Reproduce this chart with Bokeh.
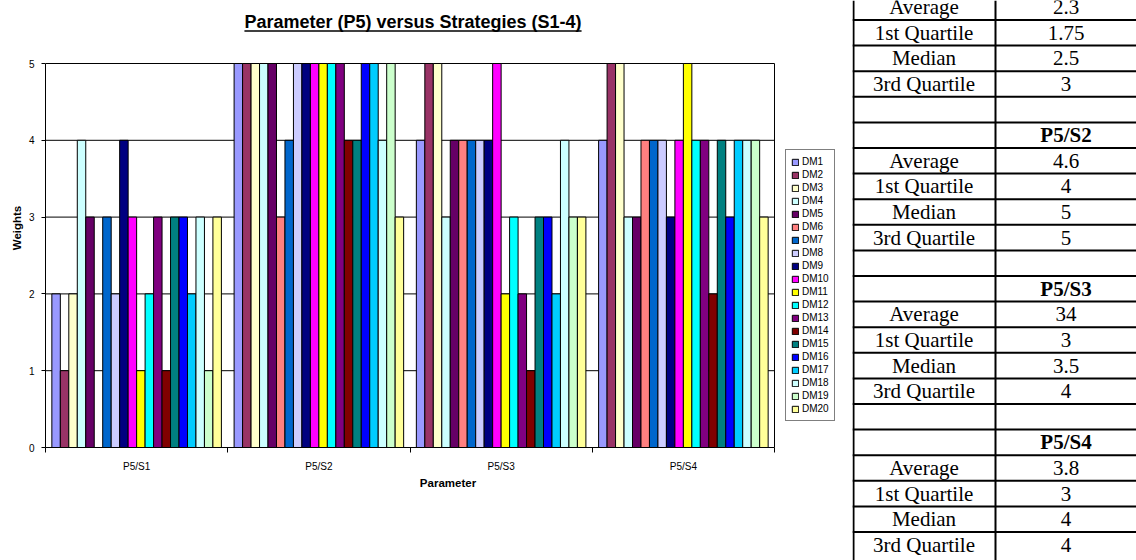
from bokeh.plotting import figure
from bokeh.models import (ColumnDataSource, Range1d, FixedTicker, Legend, LegendItem, Label)
from bokeh.layouts import row
from bokeh.embed import file_html
from bokeh.resources import INLINE
from bokeh.core.properties import value

# ---------------- data ----------------
categories = ["P5/S1", "P5/S2", "P5/S3", "P5/S4"]
series_names = ["DM%d" % (i + 1) for i in range(20)]
s1_weights = [2, 1, 2, 4, 3, 0, 3, 2, 4, 3, 1, 2, 3, 1, 3, 3, 2, 3, 1, 3]
s2_weights = [5, 5, 5, 5, 5, 3, 4, 5, 5, 5, 5, 5, 5, 4, 4, 5, 5, 4, 5, 3]
s3_weights = [4, 5, 5, 3, 4, 4, 4, 4, 4, 5, 2, 3, 2, 1, 3, 3, 2, 4, 3, 3]
s4_weights = [4, 5, 5, 3, 3, 4, 4, 4, 3, 4, 5, 4, 4, 2, 4, 3, 4, 4, 4, 3]
series_colors = ["#9999FF", "#993366", "#FFFFCC", "#CCFFFF", "#660066", "#FF8080",
                 "#0066CC", "#CCCCFF", "#000080", "#FF00FF", "#FFFF00", "#00FFFF",
                 "#800080", "#800000", "#008080", "#0000FF", "#00CCFF", "#CCFFFF",
                 "#CCFFCC", "#FFFF99"]
y_ticks = [0, 1, 2, 3, 4, 5]

title_text = "Parameter (P5) versus Strategies (S1-4)"
x_title = "Parameter"
y_title = "Weights"

# table data
table_headers = ["P5/S1", "P5/S2", "P5/S3", "P5/S4"]
stat_labels = ["Average", "1st Quartile", "Median", "3rd Quartile"]
avg_values = ["2.3", "4.6", "34", "3.8"]
q1_values = ["1.75", "4", "3", "3"]
median_values = ["2.5", "5", "3.5", "4"]
q3_values = ["3", "5", "4", "4"]

ARIAL = "Liberation Sans"
TIMES = "Liberation Serif"

# ---------------- chart ----------------
CH_W, CH_H = 852, 560
B_LEFT, B_RIGHT, B_TOP, B_BOTTOM = 45, 2, 8, 113
PLOT_W = 729                      # width of the Excel plot area in pixels
frame_w = CH_W - B_LEFT - B_RIGHT
frame_h = CH_H - B_TOP - B_BOTTOM
px_per_x = PLOT_W / len(categories)
px_per_y = 76.8
y_max = max(y_ticks)
x_max = len(categories)

p = figure(width=CH_W, height=CH_H, x_range=Range1d(0, frame_w / px_per_x),
           y_range=Range1d(0, frame_h / px_per_y),
           output_backend="svg", toolbar_location=None,
           min_border_left=B_LEFT, min_border_right=B_RIGHT,
           min_border_top=B_TOP, min_border_bottom=B_BOTTOM)
p.frame_align = False
p.background_fill_color = "white"
p.border_fill_color = "white"
p.outline_line_color = None
p.xgrid.visible = False
p.ygrid.visible = False

# horizontal gridlines of the plot area and its right border
p.segment(x0=[0] * len(y_ticks), x1=[x_max] * len(y_ticks), y0=y_ticks, y1=y_ticks,
          line_color="black", line_width=1)
p.segment(x0=[x_max], x1=[x_max], y0=[0], y1=[y_max], line_color="black", line_width=1)

n = len(series_names)
slots = n + 1.5
all_weights = [s1_weights, s2_weights, s3_weights, s4_weights]
items = []
for i, name in enumerate(series_names):
    xs = [c + (0.75 + i + 0.5) / slots for c in range(len(categories))]
    tops = [all_weights[c][i] for c in range(len(categories))]
    src = ColumnDataSource(dict(x=xs, top=tops))
    r = p.vbar(x="x", top="top", bottom=0, width=1.0 / slots, source=src,
               fill_color=series_colors[i], line_color="black", line_width=1)
    items.append(LegendItem(label=name, renderers=[r]))

legend = Legend(items=items, location=(740, 26))
legend.border_line_color = "black"
legend.border_line_width = 1
legend.padding = 5
legend.spacing = 0
legend.margin = 0
legend.label_text_font = ARIAL
legend.label_text_font_size = "10px"
legend.label_text_color = "black"
legend.glyph_width = 8
legend.glyph_height = 8
legend.label_height = 13
legend.label_standoff = 3
legend.background_fill_color = "white"
legend.background_fill_alpha = 1
p.add_layout(legend)

# y axis
p.yaxis.bounds = (0, y_max)
p.yaxis.ticker = FixedTicker(ticks=y_ticks)
p.yaxis.major_tick_out = 4
p.yaxis.major_tick_in = 0
p.yaxis.minor_tick_out = 0
p.yaxis.minor_tick_in = 0
p.yaxis.major_label_standoff = 7
p.yaxis.major_label_text_font = ARIAL
p.yaxis.major_label_text_font_size = "10px"
p.yaxis.major_label_text_color = "black"
p.yaxis.axis_line_color = "black"
p.yaxis.major_tick_line_color = "black"
p.yaxis.axis_label = y_title
p.yaxis.axis_label_text_font = ARIAL
p.yaxis.axis_label_text_font_size = "11.5px"
p.yaxis.axis_label_text_font_style = "bold"
p.yaxis.axis_label_text_color = "black"
p.yaxis.axis_label_standoff = 3

# x axis: labels at category centres, tick marks at category boundaries
centres = [c + 0.5 for c in range(len(categories))]
p.xaxis.bounds = (0, x_max)
p.xaxis.ticker = FixedTicker(ticks=centres, minor_ticks=list(range(len(categories) + 1)))
p.xaxis.major_label_overrides = {c: lab for c, lab in zip(centres, categories)}
p.xaxis.major_tick_out = 0
p.xaxis.major_tick_in = 0
p.xaxis.minor_tick_out = 5
p.xaxis.minor_tick_in = 0
p.xaxis.minor_tick_line_color = "black"
p.xaxis.axis_line_color = "black"
p.xaxis.major_label_standoff = 8
p.xaxis.major_label_text_font = ARIAL
p.xaxis.major_label_text_font_size = "10px"
p.xaxis.major_label_text_color = "black"
p.xaxis.axis_label = x_title
p.xaxis.axis_label_text_font = ARIAL
p.xaxis.axis_label_text_font_size = "11.5px"
p.xaxis.axis_label_text_font_style = "bold"
p.xaxis.axis_label_text_color = "black"
p.xaxis.axis_label_standoff = 2

# title with underline (inside the extended frame)
title_size = 18
title_x = 2.0 + 3.0 / px_per_x
title_y = (447 - 21) / px_per_y
p.add_layout(Label(x=title_x, y=title_y, text=title_text, text_align="center",
                   text_baseline="middle", text_font=ARIAL, text_font_style="bold",
                   text_font_size="%dpx" % title_size, text_color="black"))
half = 18.73 * title_size / 2 / px_per_x
u_y = title_y - (title_size * 0.5 + 0.5) / px_per_y
p.segment(x0=[title_x - half], x1=[title_x + half], y0=[u_y], y1=[u_y],
          line_color="black", line_width=1.5)

# ---------------- table ----------------
TB_L, TB_R = CH_W, 1136
t = figure(width=TB_R - TB_L, height=CH_H, x_range=Range1d(TB_L, TB_R),
           y_range=Range1d(CH_H, 0),
           output_backend="svg", toolbar_location=None, min_border=0)
t.frame_align = False
t.axis.visible = False
t.grid.visible = False
t.outline_line_color = None
t.background_fill_color = "white"
t.border_fill_color = "white"

row_h = 25.6
first_line = 19.5
col_left, col_mid, col_right = TB_L, 995, TB_R


def row_centre(r):
    return first_line + row_h * r - row_h / 2


hl_y = [first_line + row_h * k for k in range(21)]
t.segment(x0=[col_left] * len(hl_y), x1=[col_right] * len(hl_y), y0=hl_y, y1=hl_y,
          line_color="black", line_width=2)
t.segment(x0=[col_left + 1, col_mid], x1=[col_left + 1, col_mid], y0=[0, 0], y1=[CH_H, CH_H],
          line_color="black", line_width=2)

lab_x, lab_y, lab_t = [], [], []
val_x, val_y, val_t = [], [], []
hdr_x, hdr_y, hdr_t = [], [], []
for b, hdr in enumerate(table_headers):
    base = 6 * b
    if base - 1 >= 0:
        hdr_x.append((col_mid + col_right) / 2)
        hdr_y.append(row_centre(base - 1))
        hdr_t.append(hdr)
    vals = [avg_values[b], q1_values[b], median_values[b], q3_values[b]]
    for k, (lab, v) in enumerate(zip(stat_labels, vals)):
        lab_x.append((col_left + col_mid) / 2)
        lab_y.append(row_centre(base + k))
        lab_t.append(lab)
        val_x.append((col_mid + col_right) / 2)
        val_y.append(row_centre(base + k))
        val_t.append(v)

t.text(x=lab_x, y=lab_y, text=lab_t, text_align="center", text_baseline="middle",
       text_font=value(TIMES), text_font_size="21px", text_color="black")
t.text(x=val_x, y=val_y, text=val_t, text_align="center", text_baseline="middle",
       text_font=value(TIMES), text_font_size="21px", text_color="black")
t.text(x=hdr_x, y=hdr_y, text=hdr_t, text_align="center", text_baseline="middle",
       text_font=value(TIMES), text_font_size="21px", text_font_style="bold",
       text_color="black")

layout = row(p, t, spacing=0)
open("out.html", "w").write(file_html(layout, INLINE))
